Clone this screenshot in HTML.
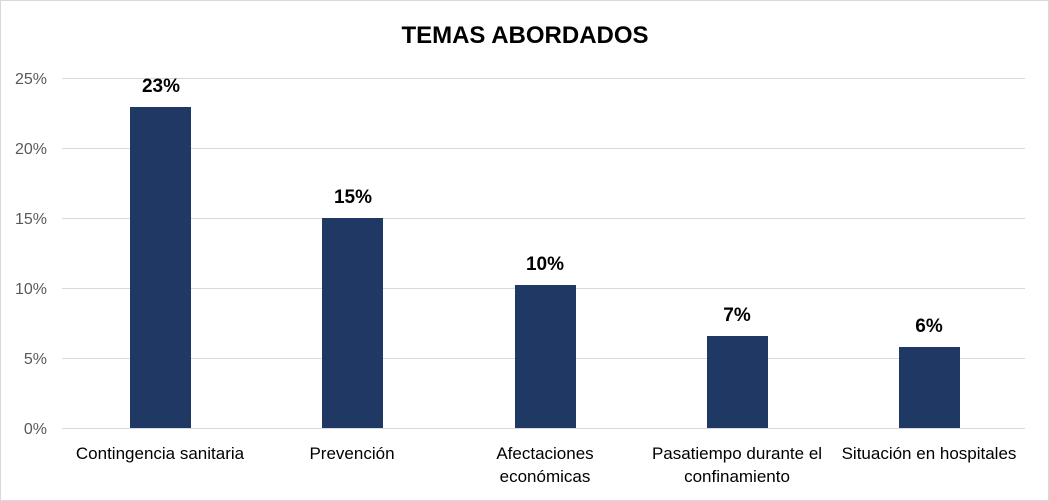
<!DOCTYPE html>
<html><head><meta charset="utf-8"><style>
html,body{margin:0;padding:0;background:#fff;}
svg{display:block;font-family:"Liberation Sans",sans-serif;}
</style></head><body>
<svg width="1049" height="501" viewBox="0 0 1049 501">
<rect x="0.5" y="0.5" width="1048" height="500" fill="#fff" stroke="#d9d9d9"/>
<text x="525" y="43" text-anchor="middle" font-size="24" font-weight="bold" fill="#000">TEMAS ABORDADOS</text>
<g stroke="#d9d9d9" stroke-width="1">
<line x1="62" x2="1025" y1="78.5" y2="78.5"/>
<line x1="62" x2="1025" y1="148.5" y2="148.5"/>
<line x1="62" x2="1025" y1="218.5" y2="218.5"/>
<line x1="62" x2="1025" y1="288.5" y2="288.5"/>
<line x1="62" x2="1025" y1="358.5" y2="358.5"/>
<line x1="62" x2="1025" y1="428.5" y2="428.5"/>
</g>
<g font-size="16" fill="#595959" text-anchor="end">
<text x="47" y="84">25%</text><text x="47" y="154">20%</text><text x="47" y="224">15%</text>
<text x="47" y="294">10%</text><text x="47" y="364">5%</text><text x="47" y="434">0%</text>
</g>
<g fill="#1f3864">
<rect x="130" y="107" width="61" height="321"/>
<rect x="322" y="218" width="61" height="210"/>
<rect x="515" y="285" width="61" height="143"/>
<rect x="707" y="336" width="61" height="92"/>
<rect x="899" y="347" width="61" height="81"/>
</g>
<g font-size="19" font-weight="bold" fill="#000" text-anchor="middle">
<text x="161" y="92">23%</text><text x="353" y="203">15%</text><text x="545" y="270">10%</text>
<text x="737" y="321">7%</text><text x="929" y="332">6%</text>
</g>
<g font-size="17" fill="#000" text-anchor="middle">
<text x="160" y="459">Contingencia sanitaria</text>
<text x="352" y="459">Prevención</text>
<text x="545" y="459">Afectaciones</text><text x="545" y="482">económicas</text>
<text x="737" y="459">Pasatiempo durante el</text><text x="737" y="482">confinamiento</text>
<text x="929" y="459">Situación en hospitales</text>
</g>
</svg>
</body></html>
